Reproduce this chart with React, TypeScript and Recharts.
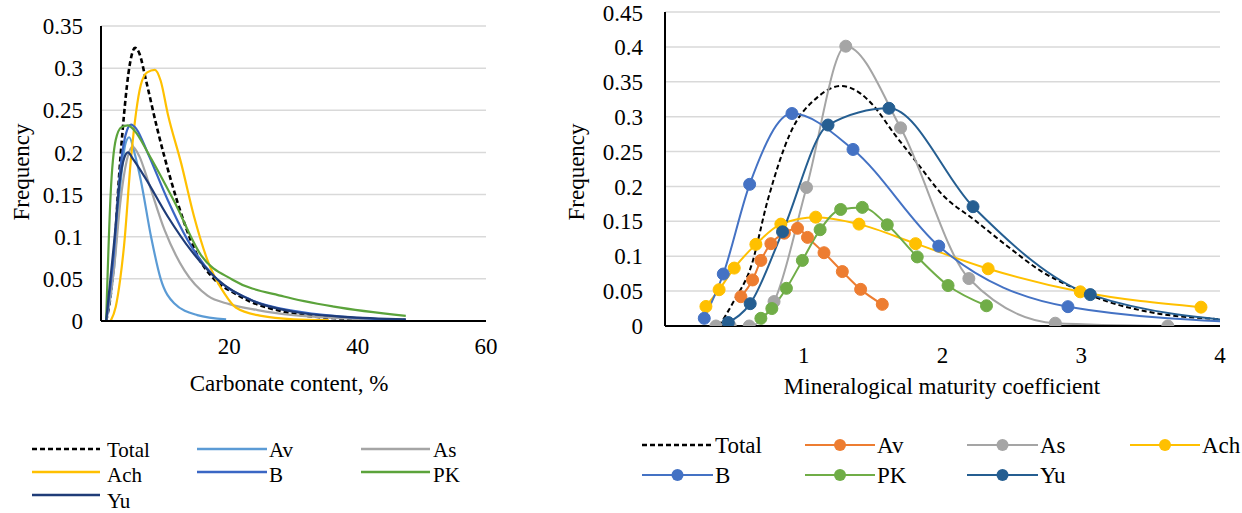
import { CartesianGrid, Line, LineChart, XAxis, YAxis } from "recharts"

const serif = '"Liberation Serif", "DejaVu Serif", "Times New Roman", serif'

// left panel: carbonate content, %
const carbTotalX = [0.8, 2, 2.6, 3.6, 4.5, 5.3, 6, 7, 8.8, 10.9, 13, 15, 17.6, 20.8, 23, 28.5, 35, 47.5]
const carbTotalY = [0, 0.07, 0.147, 0.246, 0.305, 0.324, 0.317, 0.286, 0.227, 0.167, 0.116, 0.078, 0.05, 0.033, 0.024, 0.011, 0.004, 0.001]
const carbAvX = [0.8, 2, 3, 3.8, 4.4, 5.2, 6.2, 7.8, 9.3, 11.4, 15, 19.5]
const carbAvY = [0, 0.06, 0.16, 0.21, 0.218, 0.2, 0.167, 0.1, 0.05, 0.021, 0.007, 0.002]
const carbAsX = [0.8, 2, 3, 4, 4.9, 6, 7.3, 9.9, 13, 16.6, 20, 24.4, 30, 38, 47.5]
const carbAsY = [0, 0.06, 0.14, 0.19, 0.207, 0.195, 0.167, 0.108, 0.06, 0.03, 0.02, 0.013, 0.007, 0.003, 0.001]
const carbAchX = [1.5, 2.3, 3, 3.6, 4.7, 6.2, 7.2, 8.4, 9.3, 10.4, 12.5, 14.5, 16.6, 19.2, 21, 25, 30, 35.5]
const carbAchY = [0, 0.017, 0.05, 0.09, 0.195, 0.28, 0.295, 0.298, 0.285, 0.246, 0.187, 0.124, 0.072, 0.033, 0.016, 0.006, 0.002, 0.001]
const carbBX = [0.8, 2, 3, 4, 4.7, 5.5, 7.3, 10.4, 13.5, 17.6, 23.4, 30, 38, 47.5]
const carbBY = [0, 0.08, 0.18, 0.225, 0.233, 0.228, 0.199, 0.1435, 0.096, 0.053, 0.025, 0.012, 0.005, 0.001]
const carbPkX = [0.8, 1.5, 2.3, 3.2, 4.2, 5.2, 7.5, 11.4, 15.6, 20.5, 28.5, 36.3, 47.5]
const carbPkY = [0, 0.15, 0.215, 0.23, 0.232, 0.226, 0.197, 0.142, 0.078, 0.049, 0.029, 0.017, 0.006]
const carbYuX = [0.8, 2, 3, 3.6, 4.2, 5, 6.8, 10.4, 14, 18.2, 23.9, 30, 38, 47.5]
const carbYuY = [0, 0.09, 0.17, 0.193, 0.2, 0.192, 0.171, 0.124, 0.084, 0.049, 0.023, 0.011, 0.005, 0.002]

// right panel: mineralogical maturity coefficient
const matTotalX = [0.39, 0.5, 0.62, 0.74, 0.9, 1.1, 1.27, 1.41, 1.51, 1.65, 1.82, 2.0, 2.23, 2.47, 2.7, 2.95, 3.19, 3.55, 4.0, 4.3]
const matTotalY = [0, 0.037, 0.085, 0.18, 0.275, 0.328, 0.344, 0.333, 0.314, 0.276, 0.233, 0.188, 0.152, 0.114, 0.08, 0.054, 0.035, 0.018, 0.0096, 0.006]
const matAvX = [0.547, 0.631, 0.691, 0.763, 0.86, 0.955, 1.027, 1.146, 1.278, 1.41, 1.566]
const matAvY = [0.042, 0.066, 0.094, 0.118, 0.133, 0.14, 0.127, 0.105, 0.078, 0.0525, 0.031]
const matAsX = [0.367, 0.47, 0.607, 0.786, 1.02, 1.303, 1.698, 2.19, 2.813, 3.624]
const matAsY = [0, 0, 0, 0.035, 0.1985, 0.401, 0.284, 0.068, 0.004, 0]
const matAchX = [0.295, 0.39, 0.499, 0.655, 0.835, 1.086, 1.398, 1.806, 2.329, 2.993, 3.863]
const matAchY = [0.028, 0.052, 0.083, 0.117, 0.146, 0.156, 0.146, 0.118, 0.082, 0.049, 0.027]
const matBX = [0.283, 0.42, 0.61, 0.915, 1.355, 1.973, 2.904, 4.3]
const matBY = [0.011, 0.0745, 0.203, 0.3045, 0.253, 0.1145, 0.0277, 0.004]
const matPkX = [0.691, 0.77, 0.875, 0.99, 1.118, 1.266, 1.422, 1.602, 1.818, 2.04, 2.317]
const matPkY = [0.011, 0.025, 0.054, 0.094, 0.138, 0.167, 0.17, 0.145, 0.099, 0.058, 0.029]
const matYuX = [0.456, 0.614, 0.847, 1.175, 1.614, 2.22, 3.065, 4.3]
const matYuY = [0.005, 0.032, 0.135, 0.288, 0.312, 0.171, 0.045, 0.004]

const names = ["Total", "Av", "As", "Ach", "B", "PK", "Yu"]
const carbColors = ["#000000", "#5B9BD5", "#A5A5A5", "#FFC000", "#3A66C4", "#5BA33B", "#1F3C78"]
const matColors = ["#000000", "#ED7D31", "#A5A5A5", "#FFC000", "#4472C4", "#70AD47", "#255E91"]

const carbTicksX = [20, 40, 60]
const carbTicksY = [0, 0.05, 0.1, 0.15, 0.2, 0.25, 0.3, 0.35]
const matTicksX = [1, 2, 3, 4]
const matTicksY = [0, 0.05, 0.1, 0.15, 0.2, 0.25, 0.3, 0.35, 0.4, 0.45]

const pts = (xs: number[], ys: number[]) => xs.map((x, i) => ({ x, y: ys[i] }))

const carbSeries = [
  pts(carbTotalX, carbTotalY),
  pts(carbAvX, carbAvY),
  pts(carbAsX, carbAsY),
  pts(carbAchX, carbAchY),
  pts(carbBX, carbBY),
  pts(carbPkX, carbPkY),
  pts(carbYuX, carbYuY),
]
const matSeries = [
  pts(matTotalX, matTotalY),
  pts(matAvX, matAvY),
  pts(matAsX, matAsY),
  pts(matAchX, matAchY),
  pts(matBX, matBY),
  pts(matPkX, matPkY),
  pts(matYuX, matYuY),
]

const tick = { fontSize: 23, fill: "#000", style: { fontFamily: serif } }
const axisLine = { stroke: "#000", strokeWidth: 2 }

function MarkerDot(props: any) {
  const { cx, cy, payload, stroke } = props
  if (payload == null || payload.x > 4 || cx == null) return <g />
  return <circle cx={cx} cy={cy} r={6} fill={stroke} stroke={stroke} strokeWidth={1} />
}

function CarbonateChart() {
  return (
    <LineChart width={500} height={400} margin={{ top: 26, right: 14, bottom: 19, left: 0 }} style={{ fontFamily: serif }}>
      <CartesianGrid vertical={false} stroke="#d9d9d9" strokeWidth={1.5} />
      <XAxis
        type="number"
        dataKey="x"
        domain={[0, 60]}
        ticks={carbTicksX}
        allowDataOverflow
        axisLine={axisLine}
        tickLine={false}
        tickSize={0}
        tickMargin={17}
        height={60}
        tick={tick}
      />
      <YAxis
        type="number"
        dataKey="y"
        domain={[0, 0.35]}
        ticks={carbTicksY}
        allowDataOverflow
        axisLine={axisLine}
        tickLine={false}
        tickSize={0}
        tickMargin={18}
        width={101}
        tick={tick}
      />
      {carbSeries.map((d, i) => (
        <Line
          key={names[i]}
          data={d}
          dataKey="y"
          type="monotone"
          stroke={carbColors[i]}
          strokeWidth={i === 0 ? 2.6 : 2.2}
          strokeDasharray={i === 0 ? "5 3" : undefined}
          dot={false}
          activeDot={false}
          isAnimationActive={false}
        />
      ))}
    </LineChart>
  )
}

function MaturityChart() {
  return (
    <LineChart width={682} height={400} margin={{ top: 12, right: 22, bottom: 14, left: 0 }} style={{ fontFamily: serif }}>
      <CartesianGrid vertical={false} stroke="#d9d9d9" strokeWidth={1.5} />
      <XAxis
        type="number"
        dataKey="x"
        domain={[0, 4]}
        ticks={matTicksX}
        allowDataOverflow
        axisLine={axisLine}
        tickLine={false}
        tickSize={0}
        tickMargin={21}
        height={60}
        tick={tick}
      />
      <YAxis
        type="number"
        dataKey="y"
        domain={[0, 0.45]}
        ticks={matTicksY}
        allowDataOverflow
        axisLine={axisLine}
        tickLine={false}
        tickSize={0}
        tickMargin={22}
        width={105}
        tick={tick}
      />
      {matSeries.map((d, i) => (
        <Line
          key={names[i]}
          data={d}
          dataKey="y"
          type="monotone"
          stroke={matColors[i]}
          strokeWidth={2}
          strokeDasharray={i === 0 ? "5 3" : undefined}
          dot={i === 0 ? false : <MarkerDot />}
          activeDot={false}
          isAnimationActive={false}
        />
      ))}
    </LineChart>
  )
}

// legend slots: [lineX1, lineX2, textX, lineY, textY]
const carbLegend = [
  [32, 100, 107, 449, 457],
  [197, 267, 269, 449, 457],
  [361, 430, 433, 449, 457],
  [32, 100, 107, 472, 482],
  [197, 267, 269, 472, 482],
  [361, 430, 433, 472, 482],
  [32, 100, 107, 495, 508],
]
const matLegend = [
  [642, 713, 715, 445, 453],
  [805, 875, 877, 445, 453],
  [967, 1038, 1040, 445, 453],
  [1130, 1200, 1202, 445, 453],
  [642, 713, 715, 475, 483],
  [805, 875, 877, 475, 483],
  [967, 1038, 1040, 475, 483],
]

const textStyle = { fontFamily: serif, fontSize: 23 }
const carbLegendText = { fontFamily: serif, fontSize: 21 }

function Overlay() {
  return (
    <svg width={1242} height={513} style={{ position: "absolute", left: 0, top: 0, pointerEvents: "none" }}>
      <g fill="#000" style={textStyle}>
        <text x={289} y={391} textAnchor="middle" style={textStyle}>Carbonate content, %</text>
        <text x={942} y={394} textAnchor="middle" style={textStyle}>Mineralogical maturity coefficient</text>
        <text transform="translate(29,172) rotate(-90)" textAnchor="middle" style={textStyle}>Frequency</text>
        <text transform="translate(584,172) rotate(-90)" textAnchor="middle" style={textStyle}>Frequency</text>
        {carbLegend.map(([x1, x2, tx, ly, ty], i) => (
          <g key={"c" + i}>
            <line x1={x1} x2={x2} y1={ly} y2={ly} stroke={carbColors[i]} strokeWidth={i === 0 ? 2.6 : 2.5} strokeDasharray={i === 0 ? "5 3" : undefined} />
            <text x={tx} y={ty} style={carbLegendText}>{names[i]}</text>
          </g>
        ))}
        {matLegend.map(([x1, x2, tx, ly, ty], i) => (
          <g key={"m" + i}>
            <line x1={x1} x2={x2} y1={ly} y2={ly} stroke={matColors[i]} strokeWidth={i === 0 ? 2.4 : 2.2} strokeDasharray={i === 0 ? "5 3" : undefined} />
            {i > 0 && <circle cx={(x1 + x2) / 2} cy={ly} r={6} fill={matColors[i]} />}
            <text x={tx} y={ty} style={textStyle}>{names[i]}</text>
          </g>
        ))}
      </g>
    </svg>
  )
}

export default function App() {
  return (
    <div style={{ position: "absolute", left: 0, top: 0, width: 1242, height: 513, background: "#fff", overflow: "hidden", fontFamily: serif }}>
      <div style={{ position: "absolute", left: 0, top: 0 }}>
        <CarbonateChart />
      </div>
      <div style={{ position: "absolute", left: 560, top: 0 }}>
        <MaturityChart />
      </div>
      <Overlay />
    </div>
  )
}
